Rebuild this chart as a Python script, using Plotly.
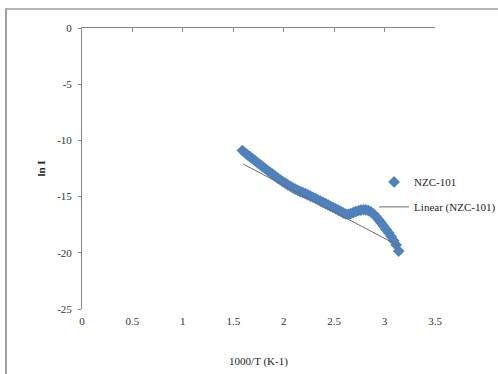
import plotly.graph_objects as go

x_vals = [1.590, 1.615, 1.640, 1.665, 1.690, 1.715, 1.740, 1.765, 1.790, 1.815,
          1.840, 1.865, 1.890, 1.915, 1.940, 1.965, 1.990, 2.015, 2.040, 2.065,
          2.090, 2.115, 2.140, 2.165, 2.190, 2.215, 2.240, 2.265, 2.290, 2.315,
          2.340, 2.365, 2.390, 2.415, 2.440, 2.465, 2.490, 2.515, 2.540, 2.565,
          2.590, 2.615, 2.640, 2.665, 2.690, 2.715, 2.740, 2.765, 2.790, 2.815,
          2.840, 2.865, 2.890, 2.915, 2.940, 2.965, 2.990, 3.015, 3.040, 3.065,
          3.090, 3.115, 3.140]
y_vals = [-10.90, -11.10, -11.28, -11.45, -11.62, -11.80, -11.98, -12.15, -12.33, -12.50,
          -12.68, -12.84, -13.00, -13.18, -13.35, -13.50, -13.66, -13.80, -13.95, -14.08,
          -14.22, -14.34, -14.45, -14.55, -14.65, -14.74, -14.84, -14.95, -15.06, -15.17,
          -15.28, -15.40, -15.52, -15.63, -15.74, -15.86, -15.97, -16.08, -16.20, -16.32,
          -16.45, -16.55, -16.58, -16.52, -16.42, -16.33, -16.26, -16.20, -16.17, -16.18,
          -16.24, -16.36, -16.55, -16.78, -17.04, -17.32, -17.62, -17.92, -18.22, -18.55,
          -18.90, -19.30, -19.85]
trend_x = [1.597, 3.145]
trend_y = [-12.1, -19.4]
x_ticks = [0, 0.5, 1, 1.5, 2, 2.5, 3, 3.5]
y_ticks = [0, -5, -10, -15, -20, -25]
series_name = "NZC-101"
trend_name = "Linear (NZC-101)"

FONT = "Liberation Serif"
AX = "#868686"
FRAME = "#a0a0a0"

fig = go.Figure()
fig.add_trace(go.Scatter(
    x=x_vals, y=y_vals, mode="markers", name=series_name, legendgroup="a",
    marker=dict(symbol="diamond", size=9, color="#4f81bd",
                line=dict(width=0))))
fig.add_trace(go.Scatter(
    x=trend_x, y=trend_y, mode="lines", name=trend_name, legendgroup="b",
    xaxis="x2", line=dict(color="#6b6b6b", width=1)))

fig.update_layout(
    width=498, height=374,
    margin=dict(l=82, r=63, t=28, b=65, autoexpand=False),
    paper_bgcolor="white", plot_bgcolor="white",
    font=dict(family=FONT, size=11, color="#333333"),
    showlegend=True,
    legend=dict(x=0.8275, y=0.504, xanchor="left", yanchor="top",
                bgcolor="rgba(0,0,0,0)", font=dict(family=FONT, size=11, color="#222222"),
                traceorder="grouped", tracegroupgap=6, itemwidth=30),
    xaxis=dict(range=[0, 3.5], tickvals=x_ticks, ticktext=[str(t) for t in x_ticks],
               showline=False, showgrid=False, zeroline=False, ticks="",
               ticklabelstandoff=4, tickfont=dict(family=FONT, size=11),
               automargin=False,
               title=dict(text="1000/T (K-1)", standoff=31,
                          font=dict(family=FONT, size=11, color="#222222"))),
    xaxis2=dict(range=[0, 3.5], overlaying="x", side="top", anchor="y",
                tickvals=x_ticks, showticklabels=False, showline=True,
                linecolor=AX, linewidth=1, ticks="inside", ticklen=4,
                tickcolor=AX, showgrid=False, zeroline=False),
    yaxis=dict(range=[-25, 0], tickvals=y_ticks, ticktext=[str(t) for t in y_ticks],
               showline=True, linecolor=AX, linewidth=1, ticks="outside",
               ticklen=3, tickcolor=AX, showgrid=False, zeroline=False,
               ticklabelstandoff=4, tickfont=dict(family=FONT, size=11),
               automargin=False,
               title=dict(text="<b>ln I</b>", standoff=9,
                          font=dict(family=FONT, size=11, color="#222222"))),
    shapes=[
        dict(type="line", xref="paper", yref="paper",
             x0=-0.2153, x1=-0.2153, y0=-0.3, y1=1.0694,
             line=dict(color=FRAME, width=2), layer="below"),
        dict(type="line", xref="paper", yref="paper",
             x0=-0.2181, x1=1.2, y0=1.0676, y1=1.0676,
             line=dict(color=FRAME, width=1.5), layer="below"),
    ],
)

fig.write_html("out.html")
